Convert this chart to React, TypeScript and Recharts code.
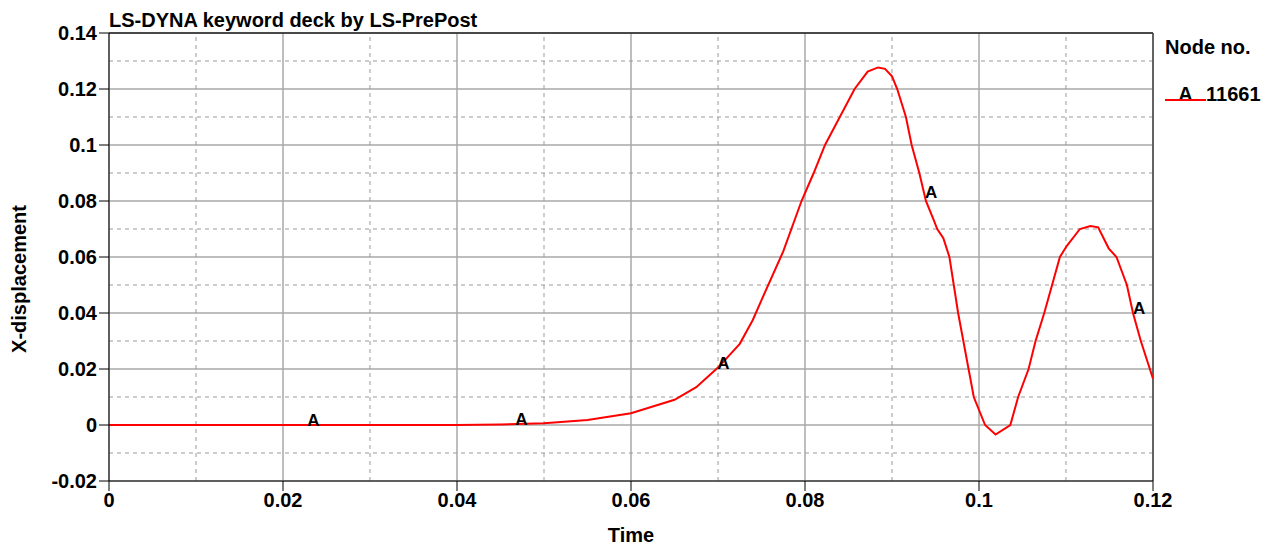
import React from 'react';
import {
  LineChart,
  Line,
  XAxis,
  YAxis,
  CartesianGrid,
  ReferenceLine,
  ReferenceDot,
} from 'recharts';

const times = [
  0, 0.01, 0.02, 0.03, 0.04, 0.045, 0.05, 0.055, 0.06, 0.065, 0.0675, 0.07, 0.0725, 0.074, 0.075,
  0.0775, 0.0796, 0.081, 0.0823, 0.084, 0.0857, 0.0872, 0.0884, 0.0892, 0.09, 0.0906, 0.0916,
  0.09226, 0.09314, 0.0939, 0.0948, 0.0952, 0.0959, 0.0966, 0.0971, 0.0976, 0.0982, 0.0988,
  0.0994, 0.1007, 0.1019, 0.1036, 0.1045, 0.1057, 0.1065, 0.1075, 0.1084, 0.1093, 0.1101, 0.1116,
  0.1128, 0.1137, 0.1149, 0.1158, 0.117, 0.1177, 0.1186, 0.12,
];
const xDisplacement = [
  0, 0, 0, 0, 0, 0.0002, 0.0006, 0.0018, 0.0042, 0.009, 0.0135, 0.0205, 0.029, 0.0375, 0.0446,
  0.062, 0.08, 0.09, 0.1, 0.11, 0.12, 0.1262, 0.1277, 0.1272, 0.1245, 0.12, 0.11,
  0.1, 0.09, 0.08, 0.0732, 0.07, 0.0667, 0.06, 0.05, 0.04, 0.03, 0.02,
  0.01, 0, -0.0034, 0, 0.01, 0.02, 0.03, 0.04, 0.05, 0.06, 0.064, 0.07,
  0.0711, 0.0706, 0.0631, 0.06, 0.05, 0.04, 0.03, 0.0165,
];

const markerTimes = [0.0228, 0.0467, 0.0699, 0.0938, 0.1177];
const markerValues = [0, 0.0003, 0.0205, 0.0815, 0.04];

const xTicks = [0, 0.02, 0.04, 0.06, 0.08, 0.1, 0.12];
const yTicks = [-0.02, 0, 0.02, 0.04, 0.06, 0.08, 0.1, 0.12, 0.14];
const xMinor = [0.01, 0.03, 0.05, 0.07, 0.09, 0.11];
const yMinor = [-0.01, 0.01, 0.03, 0.05, 0.07, 0.09, 0.11, 0.13];

const data = times.map((t, i) => ({ t, v: xDisplacement[i] }));

const FONT = '"Liberation Sans", Arial, sans-serif';
const tickStyle = { fontFamily: FONT, fontSize: 20, fontWeight: 700, fill: '#000' };
const textStyle: React.CSSProperties = {
  position: 'absolute',
  fontFamily: FONT,
  fontSize: 20,
  fontWeight: 700,
  color: '#000',
  whiteSpace: 'nowrap',
  lineHeight: '20px',
};

const MarkerA = (props: any) => (
  <text x={props.cx} y={props.cy + 1} fontFamily={FONT} fontSize={17} fontWeight={700} fill="#000">
    A
  </text>
);

export default function App() {
  return (
    <div style={{ position: 'absolute', left: 0, top: 0, width: 1262, height: 546, background: '#fff' }}>
      <LineChart
        width={1262}
        height={546}
        data={data}
        margin={{ top: 33, right: 109, left: 0, bottom: 0 }}
      >
        <CartesianGrid stroke="#a8a8a8" strokeWidth={1.5} />
        {xMinor.map((x) => (
          <ReferenceLine key={'vx' + x} x={x} stroke="#999" strokeDasharray="4 4" />
        ))}
        {yMinor.map((y) => (
          <ReferenceLine key={'hy' + y} y={y} stroke="#999" strokeDasharray="4 4" />
        ))}
        <ReferenceLine y={0.14} stroke="#222" strokeWidth={1.5} />
        <ReferenceLine x={0.12} stroke="#444" strokeWidth={1.5} />
        <XAxis
          dataKey="t"
          type="number"
          domain={[0, 0.12]}
          ticks={xTicks}
          allowDataOverflow
          height={65}
          stroke="#000"
          tick={tickStyle}
          tickSize={10}
          tickMargin={2}
          label={{
            value: 'Time',
            position: 'insideBottom',
            offset: 4,
            style: { fontFamily: FONT, fontSize: 20, fontWeight: 700, fill: '#000' },
          }}
        />
        <YAxis
          type="number"
          domain={[-0.02, 0.14]}
          ticks={yTicks}
          allowDataOverflow
          width={109}
          stroke="#000"
          tick={tickStyle}
          tickSize={10}
          tickMargin={2}
          label={{
            content: () => (
              <text
                x={18.5}
                y={279}
                transform="rotate(-90 18.5 279)"
                textAnchor="middle"
                dominantBaseline="central"
                fontFamily={FONT}
                fontSize={20}
                fontWeight={700}
                fill="#000"
              >
                X-displacement
              </text>
            ),
          }}
        />
        <Line
          type="linear"
          dataKey="v"
          stroke="#ff0000"
          strokeWidth={2}
          dot={false}
          isAnimationActive={false}
        />
        {markerTimes.map((t, i) => (
          <ReferenceDot key={'m' + i} x={t} y={markerValues[i]} r={0} shape={MarkerA} />
        ))}
      </LineChart>
      <div style={{ ...textStyle, left: 109, top: 10 }}>LS-DYNA keyword deck by LS-PrePost</div>
      <div style={{ ...textStyle, left: 1165, top: 37 }}>Node no.</div>
      <div style={{ ...textStyle, left: 1165, top: 84, width: 41, textAlign: 'center' }}>A</div>
      <div style={{ ...textStyle, left: 1206, top: 84 }}>11661</div>
      <div
        style={{ position: 'absolute', left: 1165, top: 99, width: 41, height: 2, background: '#ff0000' }}
      />
    </div>
  );
}
